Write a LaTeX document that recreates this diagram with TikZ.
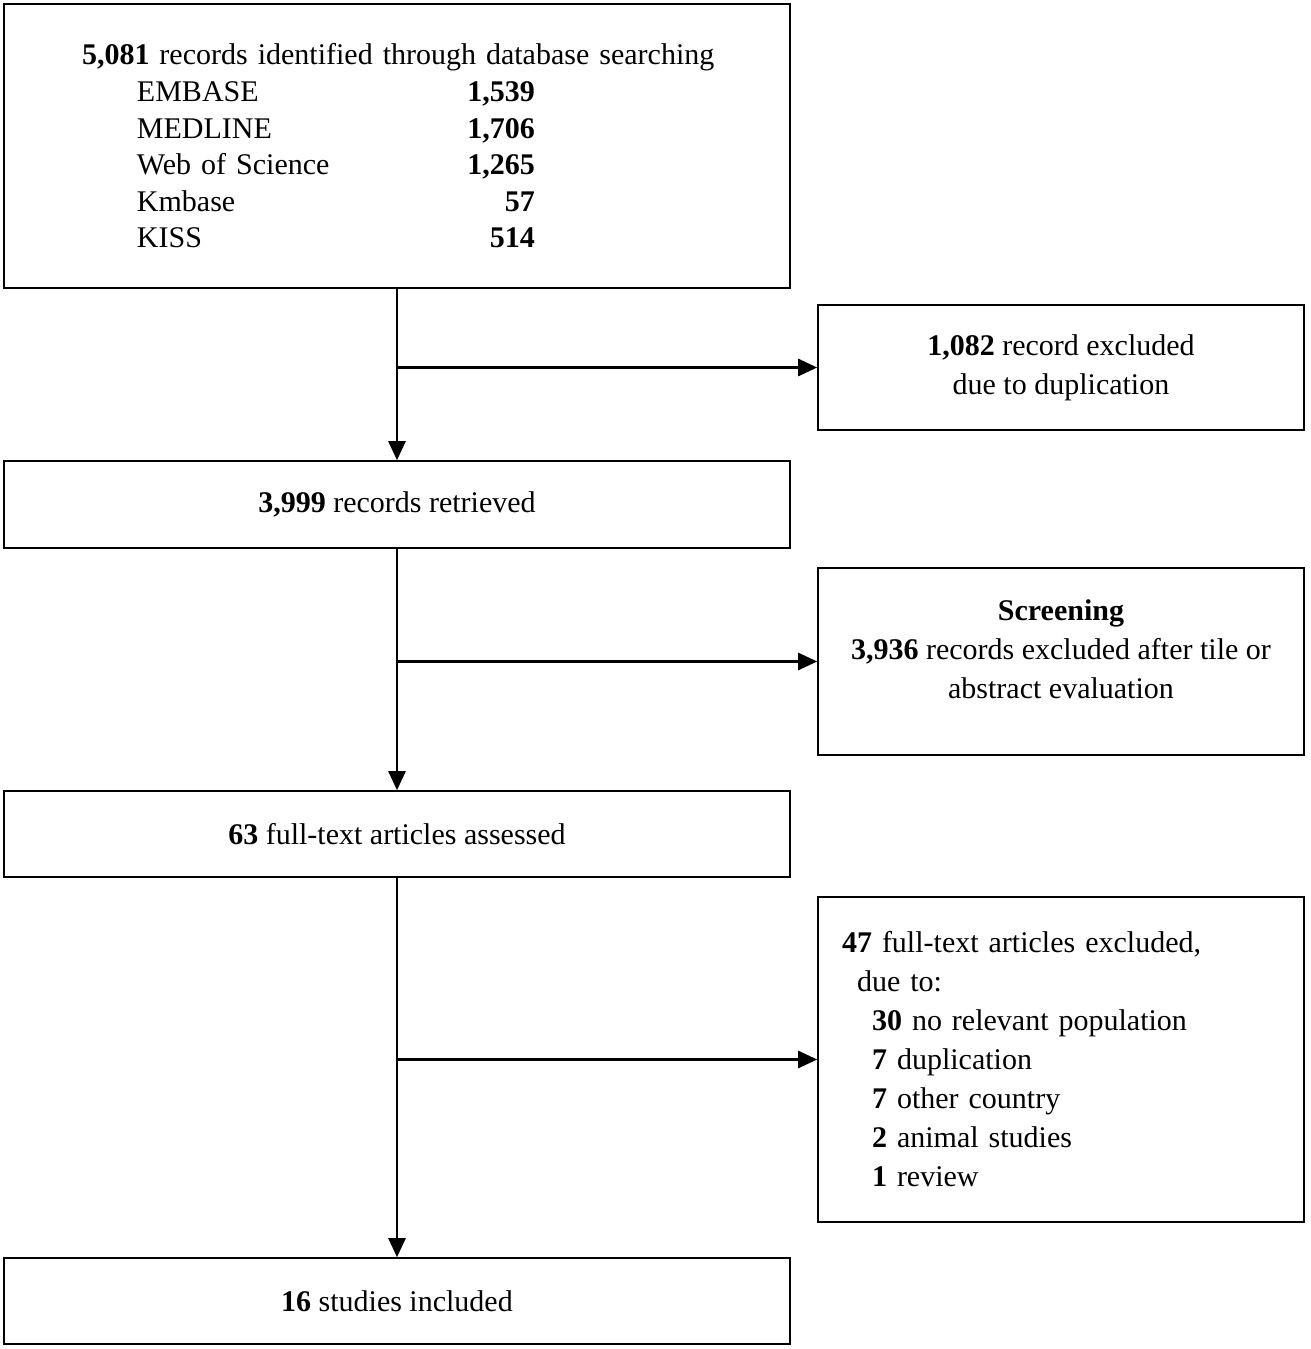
\documentclass[tikz,border=0pt]{standalone}
\usepackage{fontspec}
\setmainfont{Liberation Serif}
\usepackage{tikz}
\usetikzlibrary{arrows.meta}

\begin{document}
\begin{tikzpicture}[x=1pt,y=-1pt,
  box/.style={draw,line width=1.6pt,inner sep=0pt,font=\fontsize{30}{39}\selectfont},
  arr/.style={line width=2.6pt,-{Triangle[length=19pt,width=17pt]}}]
  \useasboundingbox (0,0) rectangle (1311,1349);
  % left column
  \node[box,minimum width=786pt,minimum height=284pt,text width=786pt,align=left,
        font=\fontsize{30}{36.6}\selectfont] (search) at (397,146)
   {\hspace*{78pt}\textbf{5,081} records identified through database searching\\
    \hspace*{133pt}\makebox[398pt]{EMBASE\hfill\textbf{1,539}}\\
    \hspace*{133pt}\makebox[398pt]{MEDLINE\hfill\textbf{1,706}}\\
    \hspace*{133pt}\makebox[398pt]{Web of Science\hfill\textbf{1,265}}\\
    \hspace*{133pt}\makebox[398pt]{Kmbase\hfill\textbf{57}}\\
    \hspace*{133pt}\makebox[398pt]{KISS\hfill\textbf{514}}};
  \node[box,minimum width=786pt,minimum height=87pt] (retr) at (397,504.5) {\textbf{3,999} records retrieved};
  \node[box,minimum width=786pt,minimum height=86pt] (assess) at (397,834) {\textbf{63} full-text articles assessed};
  \node[box,minimum width=786pt,minimum height=86pt] (incl) at (397,1301) {\textbf{16} studies included};
  % right column
  \node[box,minimum width=486pt,minimum height=125pt,align=center] (dup) at (1061,367.5)
   {\textbf{1,082} record excluded\\due to duplication};
  \node[box,minimum width=486pt,minimum height=187pt,align=center] (scr) at (1061,661.5)
   {\textbf{Screening}\\\textbf{3,936} records excluded after tile or\\abstract evaluation\rule[-24pt]{0pt}{0pt}};
  \node[box,minimum width=486pt,minimum height=325pt,text width=486pt,align=left] (excl) at (1061,1059.5)
   {\hspace*{24pt}\textbf{47} full-text articles excluded,\\
    \hspace*{39pt}due to:\\
    \hspace*{54pt}\textbf{30} no relevant population\\
    \hspace*{54pt}\textbf{7} duplication\\
    \hspace*{54pt}\textbf{7} other country\\
    \hspace*{54pt}\textbf{2} animal studies\\
    \hspace*{54pt}\textbf{1} review};
  % connectors
  \draw[arr] (search.south) -- (retr.north);
  \draw[arr] (search.south |- dup.west) -- (dup.west);
  \draw[arr] (retr.south) -- (assess.north);
  \draw[arr] (retr.south |- scr.west) -- (scr.west);
  \draw[arr] (assess.south) -- (incl.north);
  \draw[arr] (assess.south |- excl.west) -- (excl.west);
\end{tikzpicture}
\end{document}
